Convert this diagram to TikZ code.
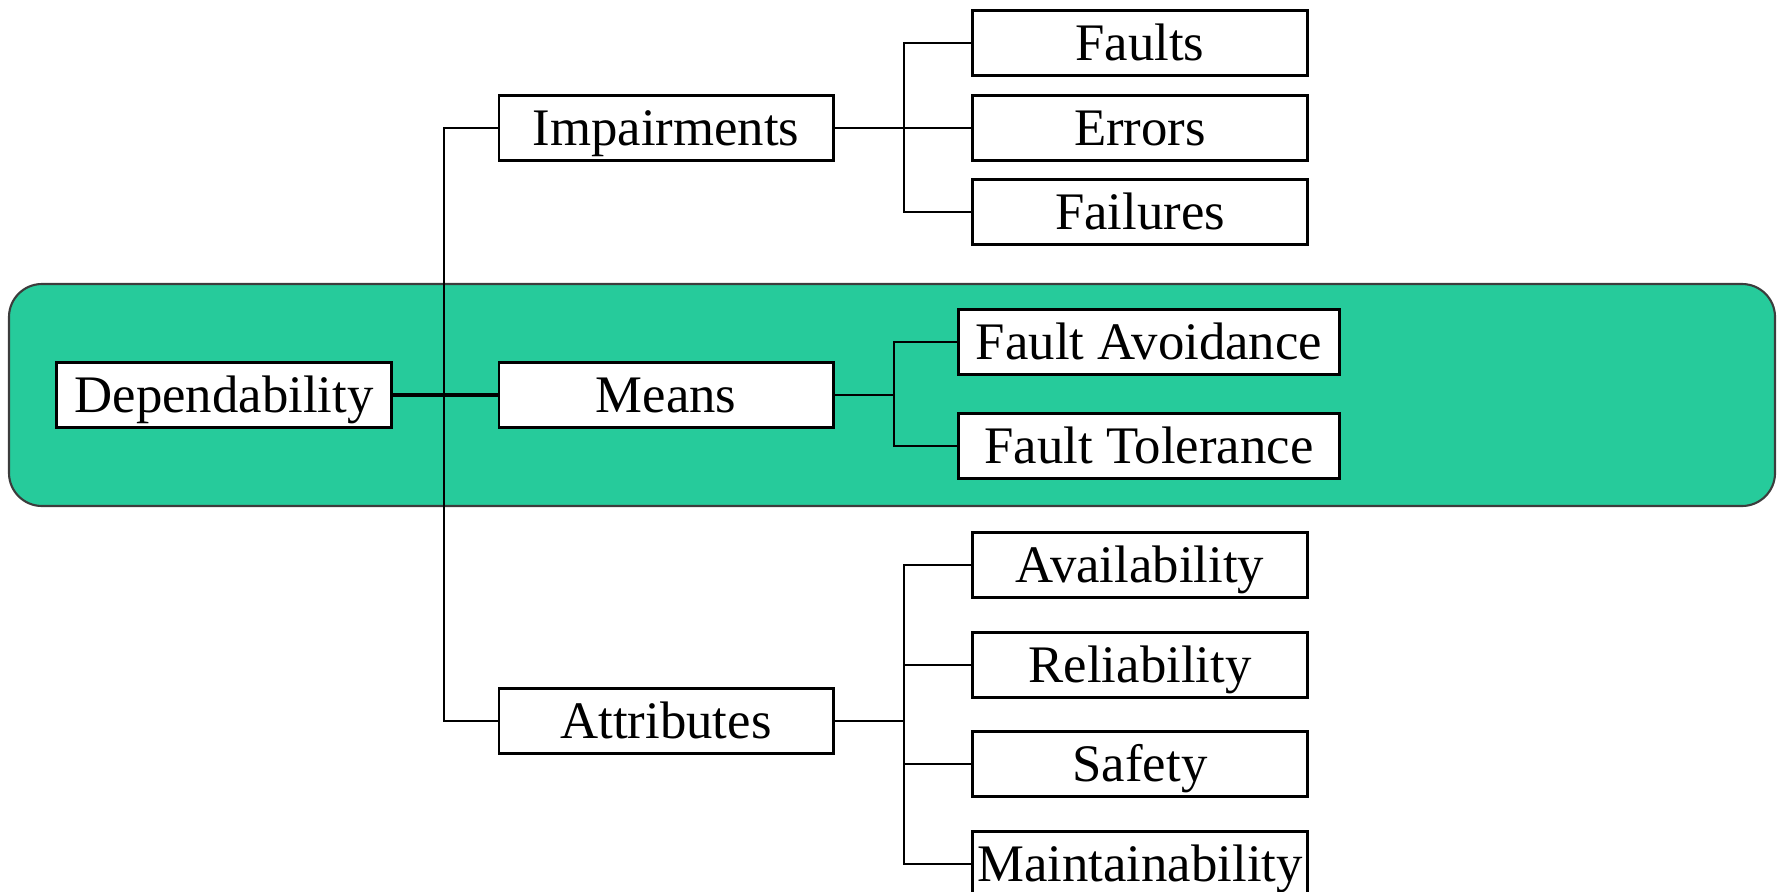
\documentclass[tikz,border=0pt]{standalone}
\usepackage{fontspec}
\setmainfont{Liberation Serif}
\definecolor{bandgreen}{RGB}{38,203,155}
\definecolor{bandedge}{RGB}{60,60,60}
\begin{document}
\begin{tikzpicture}[x=0.01cm,y=-0.01cm,
  box/.style={draw=black, line width=0.8pt, fill=white, inner sep=0pt,
    minimum width=3.34cm, minimum height=0.655cm,
    text height=9.9pt, text depth=0pt,
    font=\fontsize{15}{18}\selectfont},
  leafbox/.style={box, minimum width=3.35cm},
  widebox/.style={box, minimum width=3.81cm},
  conn/.style={draw=black, line width=0.6pt},
  thickconn/.style={draw=black, line width=0.9pt}]
\useasboundingbox (0,0) rectangle (1777,891);
\clip (0,0) rectangle (1777,891);
% green band
\draw[fill=bandgreen, draw=bandedge, line width=0.6pt, rounded corners=0.33cm] (9,284) rectangle (1775,506);
% nodes
\node[box] (dep) at (224,395) {Dependability};
\node[box] (means) at (666,395) {Means};
\node[box] (imp) at (666,128) {Impairments};
\node[box] (attr) at (666,721) {Attributes};
\node[leafbox] (faults) at (1140,43) {Faults};
\node[leafbox] (errors) at (1140,128) {Errors};
\node[leafbox] (failures) at (1140,212) {Failures};
\node[widebox] (fa) at (1149,342) {Fault Avoidance};
\node[widebox] (ft) at (1149,446) {Fault Tolerance};
\node[leafbox] (avail) at (1140,565) {Availability};
\node[leafbox] (rel) at (1140,665) {Reliability};
\node[leafbox] (safe) at (1140,764) {Safety};
\node[leafbox] (maint) at (1140,864) {Maintainability};
% trunk coordinates
\coordinate (j) at (444,0);
\coordinate (t1) at (904,0);
\coordinate (t2) at (894,0);
% main tree
\draw[conn] (imp.west) -- (imp.west -| j) -- (attr.west -| j) -- (attr.west);
\draw[thickconn] (dep.east) -- (means.west);
% impairments
\draw[conn] (imp.east) -- (errors.west);
\draw[conn] (faults.west) -- (faults.west -| t1) -- (failures.west -| t1) -- (failures.west);
% means
\draw[conn] (means.east) -- (means.east -| t2);
\draw[conn] (fa.west) -- (fa.west -| t2) -- (ft.west -| t2) -- (ft.west);
% attributes
\draw[conn] (attr.east) -- (attr.east -| t1);
\draw[conn] (avail.west) -- (avail.west -| t1) -- (maint.west -| t1) -- (maint.west);
\draw[conn] (rel.west) -- (rel.west -| t1);
\draw[conn] (safe.west) -- (safe.west -| t1);
\end{tikzpicture}
\end{document}
